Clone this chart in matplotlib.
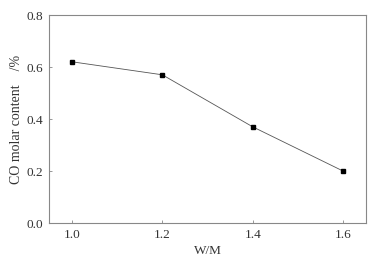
import matplotlib
matplotlib.use("Agg")
import matplotlib.pyplot as plt

x = [1.0, 1.2, 1.4, 1.6]
y = [0.62, 0.57, 0.37, 0.20]
xticks = [1.0, 1.2, 1.4, 1.6]
yticks = [0.0, 0.2, 0.4, 0.6, 0.8]

plt.rcParams['font.family'] = ['Liberation Serif', 'DejaVu Serif']
fig = plt.figure(figsize=(3.73, 2.61), dpi=100)
ax = fig.add_axes([49/373, 1-223/261, (366-49)/373, (223-15)/261])
ax.plot(x, y, color='#555555', lw=0.6, marker='s', ms=3.4, mfc='black', mec='black')
ax.set_xlim(0.949, 1.651)
ax.set_ylim(0.0, 0.8)
ax.set_xticks(xticks)
ax.set_yticks(yticks)
ax.set_xticklabels([f"{v:.1f}" for v in xticks])
ax.set_yticklabels([f"{v:.1f}" for v in yticks])
for s in ax.spines.values():
    s.set_color('#888888')
    s.set_linewidth(0.8)
ax.tick_params(direction='in', length=2.5, width=0.6, color='#888888', labelsize=9.5, labelcolor='#333333', top=False, right=False, pad=4)
ax.set_xlabel('W/M', fontsize=9.5, color='#333333', labelpad=3)
ax.set_ylabel('CO molar content    /%', fontsize=10, color='#333333', labelpad=3)
fig.savefig('out.png', dpi=100)
